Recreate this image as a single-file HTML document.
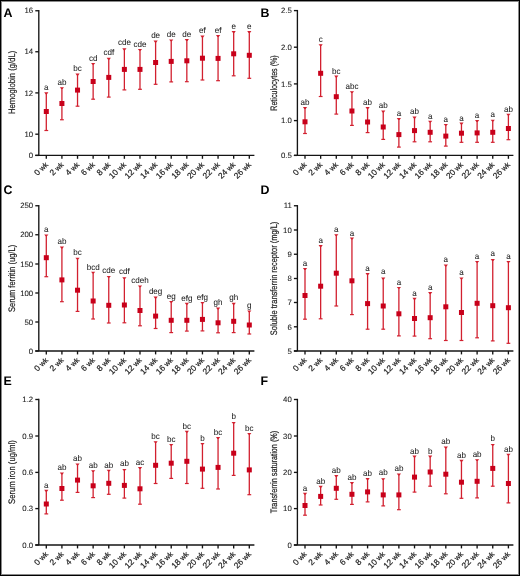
<!DOCTYPE html>
<html><head><meta charset="utf-8"><title>Figure</title><style>
html,body{margin:0;padding:0;background:#fff;}
body{width:520px;height:576px;overflow:hidden;position:relative;}
.frame{position:absolute;left:0;top:0;width:520px;height:576px;box-sizing:border-box;border:1px solid #000;}
.frame2{position:absolute;left:1px;top:1px;width:518px;height:574px;box-sizing:border-box;border:1px solid #8a8a8a;}
svg{position:absolute;left:0;top:0;will-change:transform;text-rendering:geometricPrecision;}
text{font-family:"Liberation Sans",sans-serif;fill:#1c1c1c;stroke:#1c1c1c;stroke-width:0.2px;}
.L{font-weight:bold;font-size:12.4px;fill:#000;stroke:none;}
.T{font-size:9.4px;}
.Y{font-size:7.8px;stroke-width:0.08px;}
.X{font-size:7.3px;}
.S{font-size:8.3px;stroke-width:0.05px;}
.ax{stroke:#141414;stroke-width:1.35;fill:none;}
.bar{stroke:#d2202f;stroke-width:1.3;fill:none;}
.cap{stroke:#d2202f;stroke-width:1.2;fill:none;}
.mk{fill:#c8001a;}
.capt{fill:#d2202f;stroke:none;}
</style></head>
<body>
<svg width="520" height="576" viewBox="0 0 520 576">
<text x="3.6" y="17" class="L">A</text>
<text class="T" transform="translate(14.5,82.4) rotate(-90)" text-anchor="middle" textLength="63.3" lengthAdjust="spacingAndGlyphs">Hemoglobin (g/dL)</text>
<path d="M38.8 10.07V155.4" class="ax"/>
<path d="M35.3 155.4H254.4" class="ax"/>
<path d="M35.3 10.75H38.8" class="ax"/>
<text class="Y" transform="translate(33.2,13.45) scale(1,1)" text-anchor="end">16</text>
<path d="M35.3 51.75H38.8" class="ax"/>
<text class="Y" transform="translate(33.2,54.45) scale(1,1)" text-anchor="end">14</text>
<path d="M35.3 92.9H38.8" class="ax"/>
<text class="Y" transform="translate(33.2,95.6) scale(1,1)" text-anchor="end">12</text>
<path d="M35.3 134.2H38.8" class="ax"/>
<text class="Y" transform="translate(33.2,136.9) scale(1,1)" text-anchor="end">10</text>
<path d="M35.3 155.4H38.8" class="ax"/>
<text class="Y" transform="translate(33.2,158.1) scale(1,1)" text-anchor="end">0</text>
<path d="M46.3 155.4V158.8" class="ax"/>
<text class="X" transform="translate(48.5,165.1) rotate(-45) scale(1,1)" text-anchor="end"><tspan font-size="8.3">0</tspan> wk</text>
<path d="M61.91 155.4V158.8" class="ax"/>
<text class="X" transform="translate(64.11,165.1) rotate(-45) scale(1,1)" text-anchor="end"><tspan font-size="8.3">2</tspan> wk</text>
<path d="M77.53 155.4V158.8" class="ax"/>
<text class="X" transform="translate(79.73,165.1) rotate(-45) scale(1,1)" text-anchor="end"><tspan font-size="8.3">4</tspan> wk</text>
<path d="M93.14 155.4V158.8" class="ax"/>
<text class="X" transform="translate(95.34,165.1) rotate(-45) scale(1,1)" text-anchor="end"><tspan font-size="8.3">6</tspan> wk</text>
<path d="M108.76 155.4V158.8" class="ax"/>
<text class="X" transform="translate(110.96,165.1) rotate(-45) scale(1,1)" text-anchor="end"><tspan font-size="8.3">8</tspan> wk</text>
<path d="M124.38 155.4V158.8" class="ax"/>
<text class="X" transform="translate(126.58,165.1) rotate(-45) scale(1,1)" text-anchor="end"><tspan font-size="8.3">10</tspan> wk</text>
<path d="M139.99 155.4V158.8" class="ax"/>
<text class="X" transform="translate(142.19,165.1) rotate(-45) scale(1,1)" text-anchor="end"><tspan font-size="8.3">12</tspan> wk</text>
<path d="M155.61 155.4V158.8" class="ax"/>
<text class="X" transform="translate(157.81,165.1) rotate(-45) scale(1,1)" text-anchor="end"><tspan font-size="8.3">14</tspan> wk</text>
<path d="M171.22 155.4V158.8" class="ax"/>
<text class="X" transform="translate(173.42,165.1) rotate(-45) scale(1,1)" text-anchor="end"><tspan font-size="8.3">16</tspan> wk</text>
<path d="M186.83 155.4V158.8" class="ax"/>
<text class="X" transform="translate(189.03,165.1) rotate(-45) scale(1,1)" text-anchor="end"><tspan font-size="8.3">18</tspan> wk</text>
<path d="M202.45 155.4V158.8" class="ax"/>
<text class="X" transform="translate(204.65,165.1) rotate(-45) scale(1,1)" text-anchor="end"><tspan font-size="8.3">20</tspan> wk</text>
<path d="M218.06 155.4V158.8" class="ax"/>
<text class="X" transform="translate(220.26,165.1) rotate(-45) scale(1,1)" text-anchor="end"><tspan font-size="8.3">22</tspan> wk</text>
<path d="M233.68 155.4V158.8" class="ax"/>
<text class="X" transform="translate(235.88,165.1) rotate(-45) scale(1,1)" text-anchor="end"><tspan font-size="8.3">24</tspan> wk</text>
<path d="M249.3 155.4V158.8" class="ax"/>
<text class="X" transform="translate(251.5,165.1) rotate(-45) scale(1,1)" text-anchor="end"><tspan font-size="8.3">26</tspan> wk</text>
<path d="M46.3 92.9V130.5" class="bar"/>
<path d="M44.4 130.5H48.2" class="cap"/>
<path d="M44.2 92.3H48.4L46.95 94.2H45.65Z" class="capt"/>
<rect x="43.8" y="109" width="5" height="5" class="mk"/>
<text class="S" transform="translate(46.3,90.2) scale(0.97,1)" text-anchor="middle">a</text>
<path d="M61.91 87.8V119.75" class="bar"/>
<path d="M60.02 119.75H63.81" class="cap"/>
<path d="M59.81 87.2H64.02L62.56 89.1H61.27Z" class="capt"/>
<rect x="59.41" y="101" width="5" height="5" class="mk"/>
<text class="S" transform="translate(61.91,85.3) scale(0.97,1)" text-anchor="middle">ab</text>
<path d="M77.53 74.1V106.2" class="bar"/>
<path d="M75.63 106.2H79.43" class="cap"/>
<path d="M75.43 73.5H79.63L78.18 75.4H76.88Z" class="capt"/>
<rect x="75.03" y="87.6" width="5" height="5" class="mk"/>
<text class="S" transform="translate(77.53,71.4) scale(0.97,1)" text-anchor="middle">bc</text>
<path d="M93.14 63.5V99.2" class="bar"/>
<path d="M91.24 99.2H95.05" class="cap"/>
<path d="M91.05 62.9H95.24L93.8 64.8H92.49Z" class="capt"/>
<rect x="90.64" y="79" width="5" height="5" class="mk"/>
<text class="S" transform="translate(93.14,61) scale(0.97,1)" text-anchor="middle">cd</text>
<path d="M108.76 58.4V97.1" class="bar"/>
<path d="M106.86 97.1H110.66" class="cap"/>
<path d="M106.66 57.8H110.86L109.41 59.7H108.11Z" class="capt"/>
<rect x="106.26" y="74.9" width="5" height="5" class="mk"/>
<text class="S" transform="translate(108.76,55.3) scale(0.97,1)" text-anchor="middle">cdf</text>
<path d="M124.38 48.9V89.9" class="bar"/>
<path d="M122.47 89.9H126.28" class="cap"/>
<path d="M122.28 48.3H126.47L125.03 50.2H123.72Z" class="capt"/>
<rect x="121.88" y="66.9" width="5" height="5" class="mk"/>
<text class="S" transform="translate(124.38,44.7) scale(0.97,1)" text-anchor="middle">cde</text>
<path d="M139.99 49.5V89.3" class="bar"/>
<path d="M138.09 89.3H141.89" class="cap"/>
<path d="M137.89 48.9H142.09L140.64 50.8H139.34Z" class="capt"/>
<rect x="137.49" y="66.9" width="5" height="5" class="mk"/>
<text class="S" transform="translate(139.99,46.8) scale(0.97,1)" text-anchor="middle">cde</text>
<path d="M155.61 41.1V84.3" class="bar"/>
<path d="M153.71 84.3H157.51" class="cap"/>
<path d="M153.51 40.5H157.71L156.26 42.4H154.96Z" class="capt"/>
<rect x="153.11" y="60" width="5" height="5" class="mk"/>
<text class="S" transform="translate(155.61,38) scale(0.97,1)" text-anchor="middle">de</text>
<path d="M171.22 40V81.9" class="bar"/>
<path d="M169.32 81.9H173.12" class="cap"/>
<path d="M169.12 39.4H173.32L171.87 41.3H170.57Z" class="capt"/>
<rect x="168.72" y="58.9" width="5" height="5" class="mk"/>
<text class="S" transform="translate(171.22,36.9) scale(0.97,1)" text-anchor="middle">de</text>
<path d="M186.83 39.6V81.7" class="bar"/>
<path d="M184.93 81.7H188.73" class="cap"/>
<path d="M184.73 39H188.93L187.48 40.9H186.18Z" class="capt"/>
<rect x="184.33" y="58.3" width="5" height="5" class="mk"/>
<text class="S" transform="translate(186.83,36.9) scale(0.97,1)" text-anchor="middle">de</text>
<path d="M202.45 36.2V80" class="bar"/>
<path d="M200.55 80H204.35" class="cap"/>
<path d="M200.35 35.6H204.55L203.1 37.5H201.8Z" class="capt"/>
<rect x="199.95" y="55.7" width="5" height="5" class="mk"/>
<text class="S" transform="translate(202.45,33.3) scale(0.97,1)" text-anchor="middle">ef</text>
<path d="M218.06 35.6V80.7" class="bar"/>
<path d="M216.16 80.7H219.97" class="cap"/>
<path d="M215.97 35H220.16L218.72 36.9H217.41Z" class="capt"/>
<rect x="215.56" y="55.9" width="5" height="5" class="mk"/>
<text class="S" transform="translate(218.06,32.7) scale(0.97,1)" text-anchor="middle">ef</text>
<path d="M233.68 31.6V75.8" class="bar"/>
<path d="M231.78 75.8H235.58" class="cap"/>
<path d="M231.58 31H235.78L234.33 32.9H233.03Z" class="capt"/>
<rect x="231.18" y="51.3" width="5" height="5" class="mk"/>
<text class="S" transform="translate(233.68,28.5) scale(0.97,1)" text-anchor="middle">e</text>
<path d="M249.3 31.6V78.3" class="bar"/>
<path d="M247.4 78.3H251.2" class="cap"/>
<path d="M247.2 31H251.4L249.95 32.9H248.65Z" class="capt"/>
<rect x="246.8" y="52.8" width="5" height="5" class="mk"/>
<text class="S" transform="translate(249.3,28.5) scale(0.97,1)" text-anchor="middle">e</text>
<text x="260.5" y="17" class="L">B</text>
<text class="T" transform="translate(276.6,83) rotate(-90)" text-anchor="middle" textLength="55.5" lengthAdjust="spacingAndGlyphs">Reticulocytes (%)</text>
<path d="M297.4 9.92V155.4" class="ax"/>
<path d="M293.9 155.4H513.4" class="ax"/>
<path d="M293.9 10.6H297.4" class="ax"/>
<text class="Y" transform="translate(291.8,13.3) scale(1,1)" text-anchor="end">2.5</text>
<path d="M293.9 47.2H297.4" class="ax"/>
<text class="Y" transform="translate(291.8,49.9) scale(1,1)" text-anchor="end">2.0</text>
<path d="M293.9 83.9H297.4" class="ax"/>
<text class="Y" transform="translate(291.8,86.6) scale(1,1)" text-anchor="end">1.5</text>
<path d="M293.9 120.6H297.4" class="ax"/>
<text class="Y" transform="translate(291.8,123.3) scale(1,1)" text-anchor="end">1.0</text>
<path d="M293.9 155.4H297.4" class="ax"/>
<text class="Y" transform="translate(291.8,158.1) scale(1,1)" text-anchor="end">0.5</text>
<path d="M305 155.4V158.8" class="ax"/>
<text class="X" transform="translate(307.2,165.1) rotate(-45) scale(1,1)" text-anchor="end"><tspan font-size="8.3">0</tspan> wk</text>
<path d="M320.65 155.4V158.8" class="ax"/>
<text class="X" transform="translate(322.85,165.1) rotate(-45) scale(1,1)" text-anchor="end"><tspan font-size="8.3">2</tspan> wk</text>
<path d="M336.29 155.4V158.8" class="ax"/>
<text class="X" transform="translate(338.49,165.1) rotate(-45) scale(1,1)" text-anchor="end"><tspan font-size="8.3">4</tspan> wk</text>
<path d="M351.94 155.4V158.8" class="ax"/>
<text class="X" transform="translate(354.14,165.1) rotate(-45) scale(1,1)" text-anchor="end"><tspan font-size="8.3">6</tspan> wk</text>
<path d="M367.58 155.4V158.8" class="ax"/>
<text class="X" transform="translate(369.78,165.1) rotate(-45) scale(1,1)" text-anchor="end"><tspan font-size="8.3">8</tspan> wk</text>
<path d="M383.23 155.4V158.8" class="ax"/>
<text class="X" transform="translate(385.43,165.1) rotate(-45) scale(1,1)" text-anchor="end"><tspan font-size="8.3">10</tspan> wk</text>
<path d="M398.88 155.4V158.8" class="ax"/>
<text class="X" transform="translate(401.08,165.1) rotate(-45) scale(1,1)" text-anchor="end"><tspan font-size="8.3">12</tspan> wk</text>
<path d="M414.52 155.4V158.8" class="ax"/>
<text class="X" transform="translate(416.72,165.1) rotate(-45) scale(1,1)" text-anchor="end"><tspan font-size="8.3">14</tspan> wk</text>
<path d="M430.17 155.4V158.8" class="ax"/>
<text class="X" transform="translate(432.37,165.1) rotate(-45) scale(1,1)" text-anchor="end"><tspan font-size="8.3">16</tspan> wk</text>
<path d="M445.81 155.4V158.8" class="ax"/>
<text class="X" transform="translate(448.01,165.1) rotate(-45) scale(1,1)" text-anchor="end"><tspan font-size="8.3">18</tspan> wk</text>
<path d="M461.46 155.4V158.8" class="ax"/>
<text class="X" transform="translate(463.66,165.1) rotate(-45) scale(1,1)" text-anchor="end"><tspan font-size="8.3">20</tspan> wk</text>
<path d="M477.11 155.4V158.8" class="ax"/>
<text class="X" transform="translate(479.31,165.1) rotate(-45) scale(1,1)" text-anchor="end"><tspan font-size="8.3">22</tspan> wk</text>
<path d="M492.75 155.4V158.8" class="ax"/>
<text class="X" transform="translate(494.95,165.1) rotate(-45) scale(1,1)" text-anchor="end"><tspan font-size="8.3">24</tspan> wk</text>
<path d="M508.4 155.4V158.8" class="ax"/>
<text class="X" transform="translate(510.6,165.1) rotate(-45) scale(1,1)" text-anchor="end"><tspan font-size="8.3">26</tspan> wk</text>
<path d="M305 107.6V133.5" class="bar"/>
<path d="M303.1 133.5H306.9" class="cap"/>
<path d="M302.9 107H307.1L305.65 108.9H304.35Z" class="capt"/>
<rect x="302.5" y="119.3" width="5" height="5" class="mk"/>
<text class="S" transform="translate(305,104.5) scale(0.97,1)" text-anchor="middle">ab</text>
<path d="M320.65 44.8V96.5" class="bar"/>
<path d="M318.75 96.5H322.55" class="cap"/>
<path d="M318.55 44.2H322.75L321.3 46.1H320Z" class="capt"/>
<rect x="318.15" y="70.8" width="5" height="5" class="mk"/>
<text class="S" transform="translate(320.65,41.9) scale(0.97,1)" text-anchor="middle">c</text>
<path d="M336.29 76.2V114.1" class="bar"/>
<path d="M334.39 114.1H338.19" class="cap"/>
<path d="M334.19 75.6H338.39L336.94 77.5H335.64Z" class="capt"/>
<rect x="333.79" y="94.2" width="5" height="5" class="mk"/>
<text class="S" transform="translate(336.29,73.5) scale(0.97,1)" text-anchor="middle">bc</text>
<path d="M351.94 91.8V125.4" class="bar"/>
<path d="M350.04 125.4H353.84" class="cap"/>
<path d="M349.84 91.2H354.04L352.59 93.1H351.29Z" class="capt"/>
<rect x="349.44" y="108.5" width="5" height="5" class="mk"/>
<text class="S" transform="translate(351.94,88.9) scale(0.97,1)" text-anchor="middle">abc</text>
<path d="M367.58 107.6V132.6" class="bar"/>
<path d="M365.68 132.6H369.48" class="cap"/>
<path d="M365.48 107H369.68L368.23 108.9H366.93Z" class="capt"/>
<rect x="365.08" y="119.5" width="5" height="5" class="mk"/>
<text class="S" transform="translate(367.58,104.9) scale(0.97,1)" text-anchor="middle">ab</text>
<path d="M383.23 111.2V139.4" class="bar"/>
<path d="M381.33 139.4H385.13" class="cap"/>
<path d="M381.13 110.6H385.33L383.88 112.5H382.58Z" class="capt"/>
<rect x="380.73" y="124.5" width="5" height="5" class="mk"/>
<text class="S" transform="translate(383.23,107.8) scale(0.97,1)" text-anchor="middle">ab</text>
<path d="M398.88 118.6V147.1" class="bar"/>
<path d="M396.98 147.1H400.78" class="cap"/>
<path d="M396.78 118H400.98L399.53 119.9H398.23Z" class="capt"/>
<rect x="396.38" y="132.1" width="5" height="5" class="mk"/>
<text class="S" transform="translate(398.88,115.5) scale(0.97,1)" text-anchor="middle">a</text>
<path d="M414.52 117.1V141.8" class="bar"/>
<path d="M412.62 141.8H416.42" class="cap"/>
<path d="M412.42 116.5H416.62L415.17 118.4H413.87Z" class="capt"/>
<rect x="412.02" y="128.1" width="5" height="5" class="mk"/>
<text class="S" transform="translate(414.52,113.8) scale(0.97,1)" text-anchor="middle">ab</text>
<path d="M430.17 121.3V141.8" class="bar"/>
<path d="M428.27 141.8H432.07" class="cap"/>
<path d="M428.07 120.7H432.27L430.82 122.6H429.52Z" class="capt"/>
<rect x="427.67" y="129.8" width="5" height="5" class="mk"/>
<text class="S" transform="translate(430.17,118.6) scale(0.97,1)" text-anchor="middle">a</text>
<path d="M445.81 124.5V146.1" class="bar"/>
<path d="M443.91 146.1H447.71" class="cap"/>
<path d="M443.71 123.9H447.91L446.46 125.8H445.16Z" class="capt"/>
<rect x="443.31" y="133.6" width="5" height="5" class="mk"/>
<text class="S" transform="translate(445.81,122.2) scale(0.97,1)" text-anchor="middle">a</text>
<path d="M461.46 123.2V142.3" class="bar"/>
<path d="M459.56 142.3H463.36" class="cap"/>
<path d="M459.36 122.6H463.56L462.11 124.5H460.81Z" class="capt"/>
<rect x="458.96" y="130.7" width="5" height="5" class="mk"/>
<text class="S" transform="translate(461.46,120.5) scale(0.97,1)" text-anchor="middle">a</text>
<path d="M477.11 120.7V142.3" class="bar"/>
<path d="M475.21 142.3H479.01" class="cap"/>
<path d="M475.01 120.1H479.21L477.76 122H476.46Z" class="capt"/>
<rect x="474.61" y="130.4" width="5" height="5" class="mk"/>
<text class="S" transform="translate(477.11,118) scale(0.97,1)" text-anchor="middle">a</text>
<path d="M492.75 120.3V142.3" class="bar"/>
<path d="M490.85 142.3H494.65" class="cap"/>
<path d="M490.65 119.7H494.85L493.4 121.6H492.1Z" class="capt"/>
<rect x="490.25" y="129.8" width="5" height="5" class="mk"/>
<text class="S" transform="translate(492.75,117.2) scale(0.97,1)" text-anchor="middle">a</text>
<path d="M508.4 114.3V139.7" class="bar"/>
<path d="M506.5 139.7H510.3" class="cap"/>
<path d="M506.3 113.7H510.5L509.05 115.6H507.75Z" class="capt"/>
<rect x="505.9" y="126" width="5" height="5" class="mk"/>
<text class="S" transform="translate(508.4,111.7) scale(0.97,1)" text-anchor="middle">ab</text>
<text x="3.4" y="194" class="L">C</text>
<text class="T" transform="translate(14.8,278.45) rotate(-90)" text-anchor="middle" textLength="67.3" lengthAdjust="spacingAndGlyphs">Serum ferritin (ug/L)</text>
<path d="M38.8 205.07V351" class="ax"/>
<path d="M35.3 351H254.4" class="ax"/>
<path d="M35.3 205.75H38.8" class="ax"/>
<text class="Y" transform="translate(33.2,208.45) scale(1,1)" text-anchor="end">250</text>
<path d="M35.3 234.75H38.8" class="ax"/>
<text class="Y" transform="translate(33.2,237.45) scale(1,1)" text-anchor="end">200</text>
<path d="M35.3 264H38.8" class="ax"/>
<text class="Y" transform="translate(33.2,266.7) scale(1,1)" text-anchor="end">150</text>
<path d="M35.3 293H38.8" class="ax"/>
<text class="Y" transform="translate(33.2,295.7) scale(1,1)" text-anchor="end">100</text>
<path d="M35.3 322H38.8" class="ax"/>
<text class="Y" transform="translate(33.2,324.7) scale(1,1)" text-anchor="end">50</text>
<path d="M35.3 351H38.8" class="ax"/>
<text class="Y" transform="translate(33.2,353.7) scale(1,1)" text-anchor="end">0</text>
<path d="M46.3 351V354.4" class="ax"/>
<text class="X" transform="translate(48.5,360.7) rotate(-45) scale(1,1)" text-anchor="end"><tspan font-size="8.3">0</tspan> wk</text>
<path d="M61.91 351V354.4" class="ax"/>
<text class="X" transform="translate(64.11,360.7) rotate(-45) scale(1,1)" text-anchor="end"><tspan font-size="8.3">2</tspan> wk</text>
<path d="M77.53 351V354.4" class="ax"/>
<text class="X" transform="translate(79.73,360.7) rotate(-45) scale(1,1)" text-anchor="end"><tspan font-size="8.3">4</tspan> wk</text>
<path d="M93.14 351V354.4" class="ax"/>
<text class="X" transform="translate(95.34,360.7) rotate(-45) scale(1,1)" text-anchor="end"><tspan font-size="8.3">6</tspan> wk</text>
<path d="M108.76 351V354.4" class="ax"/>
<text class="X" transform="translate(110.96,360.7) rotate(-45) scale(1,1)" text-anchor="end"><tspan font-size="8.3">8</tspan> wk</text>
<path d="M124.38 351V354.4" class="ax"/>
<text class="X" transform="translate(126.58,360.7) rotate(-45) scale(1,1)" text-anchor="end"><tspan font-size="8.3">10</tspan> wk</text>
<path d="M139.99 351V354.4" class="ax"/>
<text class="X" transform="translate(142.19,360.7) rotate(-45) scale(1,1)" text-anchor="end"><tspan font-size="8.3">12</tspan> wk</text>
<path d="M155.61 351V354.4" class="ax"/>
<text class="X" transform="translate(157.81,360.7) rotate(-45) scale(1,1)" text-anchor="end"><tspan font-size="8.3">14</tspan> wk</text>
<path d="M171.22 351V354.4" class="ax"/>
<text class="X" transform="translate(173.42,360.7) rotate(-45) scale(1,1)" text-anchor="end"><tspan font-size="8.3">16</tspan> wk</text>
<path d="M186.83 351V354.4" class="ax"/>
<text class="X" transform="translate(189.03,360.7) rotate(-45) scale(1,1)" text-anchor="end"><tspan font-size="8.3">18</tspan> wk</text>
<path d="M202.45 351V354.4" class="ax"/>
<text class="X" transform="translate(204.65,360.7) rotate(-45) scale(1,1)" text-anchor="end"><tspan font-size="8.3">20</tspan> wk</text>
<path d="M218.06 351V354.4" class="ax"/>
<text class="X" transform="translate(220.26,360.7) rotate(-45) scale(1,1)" text-anchor="end"><tspan font-size="8.3">22</tspan> wk</text>
<path d="M233.68 351V354.4" class="ax"/>
<text class="X" transform="translate(235.88,360.7) rotate(-45) scale(1,1)" text-anchor="end"><tspan font-size="8.3">24</tspan> wk</text>
<path d="M249.3 351V354.4" class="ax"/>
<text class="X" transform="translate(251.5,360.7) rotate(-45) scale(1,1)" text-anchor="end"><tspan font-size="8.3">26</tspan> wk</text>
<path d="M46.3 235V276.7" class="bar"/>
<path d="M44.4 276.7H48.2" class="cap"/>
<path d="M44.2 234.4H48.4L46.95 236.3H45.65Z" class="capt"/>
<rect x="43.8" y="255.2" width="5" height="5" class="mk"/>
<text class="S" transform="translate(46.3,232.1) scale(0.97,1)" text-anchor="middle">a</text>
<path d="M61.91 247.1V301.7" class="bar"/>
<path d="M60.02 301.7H63.81" class="cap"/>
<path d="M59.81 246.5H64.02L62.56 248.4H61.27Z" class="capt"/>
<rect x="59.41" y="277.4" width="5" height="5" class="mk"/>
<text class="S" transform="translate(61.91,244.4) scale(0.97,1)" text-anchor="middle">ab</text>
<path d="M77.53 258.3V311.4" class="bar"/>
<path d="M75.63 311.4H79.43" class="cap"/>
<path d="M75.43 257.7H79.63L78.18 259.6H76.88Z" class="capt"/>
<rect x="75.03" y="287.7" width="5" height="5" class="mk"/>
<text class="S" transform="translate(77.53,255.4) scale(0.97,1)" text-anchor="middle">bc</text>
<path d="M93.14 272.3V319" class="bar"/>
<path d="M91.24 319H95.05" class="cap"/>
<path d="M91.05 271.7H95.24L93.8 273.6H92.49Z" class="capt"/>
<rect x="90.64" y="298.5" width="5" height="5" class="mk"/>
<text class="S" transform="translate(93.14,269.6) scale(0.97,1)" text-anchor="middle">bcd</text>
<path d="M108.76 276.5V323" class="bar"/>
<path d="M106.86 323H110.66" class="cap"/>
<path d="M106.66 275.9H110.86L109.41 277.8H108.11Z" class="capt"/>
<rect x="106.26" y="302.8" width="5" height="5" class="mk"/>
<text class="S" transform="translate(108.76,273.4) scale(0.97,1)" text-anchor="middle">cde</text>
<path d="M124.38 277.8V322.8" class="bar"/>
<path d="M122.47 322.8H126.28" class="cap"/>
<path d="M122.28 277.2H126.47L125.03 279.1H123.72Z" class="capt"/>
<rect x="121.88" y="302.5" width="5" height="5" class="mk"/>
<text class="S" transform="translate(124.38,274) scale(0.97,1)" text-anchor="middle">cdf</text>
<path d="M139.99 286V325.8" class="bar"/>
<path d="M138.09 325.8H141.89" class="cap"/>
<path d="M137.89 285.4H142.09L140.64 287.3H139.34Z" class="capt"/>
<rect x="137.49" y="308" width="5" height="5" class="mk"/>
<text class="S" transform="translate(139.99,283.3) scale(0.97,1)" text-anchor="middle">cdeh</text>
<path d="M155.61 297.2V328.5" class="bar"/>
<path d="M153.71 328.5H157.51" class="cap"/>
<path d="M153.51 296.6H157.71L156.26 298.5H154.96Z" class="capt"/>
<rect x="153.11" y="313.6" width="5" height="5" class="mk"/>
<text class="S" transform="translate(155.61,294.3) scale(0.97,1)" text-anchor="middle">deg</text>
<path d="M171.22 301.5V332.6" class="bar"/>
<path d="M169.32 332.6H173.12" class="cap"/>
<path d="M169.12 300.9H173.32L171.87 302.8H170.57Z" class="capt"/>
<rect x="168.72" y="317.8" width="5" height="5" class="mk"/>
<text class="S" transform="translate(171.22,298.5) scale(0.97,1)" text-anchor="middle">eg</text>
<path d="M186.83 303.4V331.1" class="bar"/>
<path d="M184.93 331.1H188.73" class="cap"/>
<path d="M184.73 302.8H188.93L187.48 304.7H186.18Z" class="capt"/>
<rect x="184.33" y="317.8" width="5" height="5" class="mk"/>
<text class="S" transform="translate(186.83,300.7) scale(0.97,1)" text-anchor="middle">efg</text>
<path d="M202.45 302.5V330.9" class="bar"/>
<path d="M200.55 330.9H204.35" class="cap"/>
<path d="M200.35 301.9H204.55L203.1 303.8H201.8Z" class="capt"/>
<rect x="199.95" y="316.9" width="5" height="5" class="mk"/>
<text class="S" transform="translate(202.45,299.6) scale(0.97,1)" text-anchor="middle">efg</text>
<path d="M218.06 308.2V332.8" class="bar"/>
<path d="M216.16 332.8H219.97" class="cap"/>
<path d="M215.97 307.6H220.16L218.72 309.5H217.41Z" class="capt"/>
<rect x="215.56" y="320.3" width="5" height="5" class="mk"/>
<text class="S" transform="translate(218.06,305.3) scale(0.97,1)" text-anchor="middle">gh</text>
<path d="M233.68 303.4V332.6" class="bar"/>
<path d="M231.78 332.6H235.58" class="cap"/>
<path d="M231.58 302.8H235.78L234.33 304.7H233.03Z" class="capt"/>
<rect x="231.18" y="318.8" width="5" height="5" class="mk"/>
<text class="S" transform="translate(233.68,300.1) scale(0.97,1)" text-anchor="middle">gh</text>
<path d="M249.3 311V334" class="bar"/>
<path d="M247.4 334H251.2" class="cap"/>
<path d="M247.2 310.4H251.4L249.95 312.3H248.65Z" class="capt"/>
<rect x="246.8" y="322.5" width="5" height="5" class="mk"/>
<text class="S" transform="translate(249.3,308.1) scale(0.97,1)" text-anchor="middle">g</text>
<text x="260.5" y="193.7" class="L">D</text>
<text class="T" transform="translate(276.9,278.45) rotate(-90)" text-anchor="middle" textLength="113.5" lengthAdjust="spacingAndGlyphs">Soluble transferrin receptor (mg/L)</text>
<path d="M297.4 205.07V351" class="ax"/>
<path d="M293.9 351H513.4" class="ax"/>
<path d="M293.9 205.75H297.4" class="ax"/>
<text class="Y" transform="translate(291.8,208.45) scale(1,1)" text-anchor="end">11</text>
<path d="M293.9 230H297.4" class="ax"/>
<text class="Y" transform="translate(291.8,232.7) scale(1,1)" text-anchor="end">10</text>
<path d="M293.9 254.25H297.4" class="ax"/>
<text class="Y" transform="translate(291.8,256.95) scale(1,1)" text-anchor="end">9</text>
<path d="M293.9 278.5H297.4" class="ax"/>
<text class="Y" transform="translate(291.8,281.2) scale(1,1)" text-anchor="end">8</text>
<path d="M293.9 302.5H297.4" class="ax"/>
<text class="Y" transform="translate(291.8,305.2) scale(1,1)" text-anchor="end">7</text>
<path d="M293.9 326.8H297.4" class="ax"/>
<text class="Y" transform="translate(291.8,329.5) scale(1,1)" text-anchor="end">6</text>
<path d="M293.9 351H297.4" class="ax"/>
<text class="Y" transform="translate(291.8,353.7) scale(1,1)" text-anchor="end">5</text>
<path d="M305 351V354.4" class="ax"/>
<text class="X" transform="translate(307.2,360.7) rotate(-45) scale(1,1)" text-anchor="end"><tspan font-size="8.3">0</tspan> wk</text>
<path d="M320.65 351V354.4" class="ax"/>
<text class="X" transform="translate(322.85,360.7) rotate(-45) scale(1,1)" text-anchor="end"><tspan font-size="8.3">2</tspan> wk</text>
<path d="M336.29 351V354.4" class="ax"/>
<text class="X" transform="translate(338.49,360.7) rotate(-45) scale(1,1)" text-anchor="end"><tspan font-size="8.3">4</tspan> wk</text>
<path d="M351.94 351V354.4" class="ax"/>
<text class="X" transform="translate(354.14,360.7) rotate(-45) scale(1,1)" text-anchor="end"><tspan font-size="8.3">6</tspan> wk</text>
<path d="M367.58 351V354.4" class="ax"/>
<text class="X" transform="translate(369.78,360.7) rotate(-45) scale(1,1)" text-anchor="end"><tspan font-size="8.3">8</tspan> wk</text>
<path d="M383.23 351V354.4" class="ax"/>
<text class="X" transform="translate(385.43,360.7) rotate(-45) scale(1,1)" text-anchor="end"><tspan font-size="8.3">10</tspan> wk</text>
<path d="M398.88 351V354.4" class="ax"/>
<text class="X" transform="translate(401.08,360.7) rotate(-45) scale(1,1)" text-anchor="end"><tspan font-size="8.3">12</tspan> wk</text>
<path d="M414.52 351V354.4" class="ax"/>
<text class="X" transform="translate(416.72,360.7) rotate(-45) scale(1,1)" text-anchor="end"><tspan font-size="8.3">14</tspan> wk</text>
<path d="M430.17 351V354.4" class="ax"/>
<text class="X" transform="translate(432.37,360.7) rotate(-45) scale(1,1)" text-anchor="end"><tspan font-size="8.3">16</tspan> wk</text>
<path d="M445.81 351V354.4" class="ax"/>
<text class="X" transform="translate(448.01,360.7) rotate(-45) scale(1,1)" text-anchor="end"><tspan font-size="8.3">18</tspan> wk</text>
<path d="M461.46 351V354.4" class="ax"/>
<text class="X" transform="translate(463.66,360.7) rotate(-45) scale(1,1)" text-anchor="end"><tspan font-size="8.3">20</tspan> wk</text>
<path d="M477.11 351V354.4" class="ax"/>
<text class="X" transform="translate(479.31,360.7) rotate(-45) scale(1,1)" text-anchor="end"><tspan font-size="8.3">22</tspan> wk</text>
<path d="M492.75 351V354.4" class="ax"/>
<text class="X" transform="translate(494.95,360.7) rotate(-45) scale(1,1)" text-anchor="end"><tspan font-size="8.3">24</tspan> wk</text>
<path d="M508.4 351V354.4" class="ax"/>
<text class="X" transform="translate(510.6,360.7) rotate(-45) scale(1,1)" text-anchor="end"><tspan font-size="8.3">26</tspan> wk</text>
<path d="M305 268.6V319.2" class="bar"/>
<path d="M303.1 319.2H306.9" class="cap"/>
<path d="M302.9 268H307.1L305.65 269.9H304.35Z" class="capt"/>
<rect x="302.5" y="293" width="5" height="5" class="mk"/>
<text class="S" transform="translate(305,265.9) scale(0.97,1)" text-anchor="middle">a</text>
<path d="M320.65 245.6V318.8" class="bar"/>
<path d="M318.75 318.8H322.55" class="cap"/>
<path d="M318.55 245H322.75L321.3 246.9H320Z" class="capt"/>
<rect x="318.15" y="283.7" width="5" height="5" class="mk"/>
<text class="S" transform="translate(320.65,242.9) scale(0.97,1)" text-anchor="middle">a</text>
<path d="M336.29 234.8V306" class="bar"/>
<path d="M334.39 306H338.19" class="cap"/>
<path d="M334.19 234.2H338.39L336.94 236.1H335.64Z" class="capt"/>
<rect x="333.79" y="270.7" width="5" height="5" class="mk"/>
<text class="S" transform="translate(336.29,231.8) scale(0.97,1)" text-anchor="middle">a</text>
<path d="M351.94 238.2V314.6" class="bar"/>
<path d="M350.04 314.6H353.84" class="cap"/>
<path d="M349.84 237.6H354.04L352.59 239.5H351.29Z" class="capt"/>
<rect x="349.44" y="278.3" width="5" height="5" class="mk"/>
<text class="S" transform="translate(351.94,235.5) scale(0.97,1)" text-anchor="middle">a</text>
<path d="M367.58 273.6V329.2" class="bar"/>
<path d="M365.68 329.2H369.48" class="cap"/>
<path d="M365.48 273H369.68L368.23 274.9H366.93Z" class="capt"/>
<rect x="365.08" y="301.1" width="5" height="5" class="mk"/>
<text class="S" transform="translate(367.58,270.6) scale(0.97,1)" text-anchor="middle">a</text>
<path d="M383.23 278.2V329.2" class="bar"/>
<path d="M381.33 329.2H385.13" class="cap"/>
<path d="M381.13 277.6H385.33L383.88 279.5H382.58Z" class="capt"/>
<rect x="380.73" y="303.5" width="5" height="5" class="mk"/>
<text class="S" transform="translate(383.23,274.1) scale(0.97,1)" text-anchor="middle">a</text>
<path d="M398.88 287.5V335.9" class="bar"/>
<path d="M396.98 335.9H400.78" class="cap"/>
<path d="M396.78 286.9H400.98L399.53 288.8H398.23Z" class="capt"/>
<rect x="396.38" y="311.3" width="5" height="5" class="mk"/>
<text class="S" transform="translate(398.88,284.7) scale(0.97,1)" text-anchor="middle">a</text>
<path d="M414.52 298.4V336.1" class="bar"/>
<path d="M412.62 336.1H416.42" class="cap"/>
<path d="M412.42 297.8H416.62L415.17 299.7H413.87Z" class="capt"/>
<rect x="412.02" y="316" width="5" height="5" class="mk"/>
<text class="S" transform="translate(414.52,295.6) scale(0.97,1)" text-anchor="middle">a</text>
<path d="M430.17 292.7V338.7" class="bar"/>
<path d="M428.27 338.7H432.07" class="cap"/>
<path d="M428.07 292.1H432.27L430.82 294H429.52Z" class="capt"/>
<rect x="427.67" y="315.2" width="5" height="5" class="mk"/>
<text class="S" transform="translate(430.17,290) scale(0.97,1)" text-anchor="middle">a</text>
<path d="M445.81 265.1V340.5" class="bar"/>
<path d="M443.91 340.5H447.71" class="cap"/>
<path d="M443.71 264.5H447.91L446.46 266.4H445.16Z" class="capt"/>
<rect x="443.31" y="304.3" width="5" height="5" class="mk"/>
<text class="S" transform="translate(445.81,262.2) scale(0.97,1)" text-anchor="middle">a</text>
<path d="M461.46 278V340.5" class="bar"/>
<path d="M459.56 340.5H463.36" class="cap"/>
<path d="M459.36 277.4H463.56L462.11 279.3H460.81Z" class="capt"/>
<rect x="458.96" y="310" width="5" height="5" class="mk"/>
<text class="S" transform="translate(461.46,275) scale(0.97,1)" text-anchor="middle">a</text>
<path d="M477.11 261.5V337.8" class="bar"/>
<path d="M475.21 337.8H479.01" class="cap"/>
<path d="M475.01 260.9H479.21L477.76 262.8H476.46Z" class="capt"/>
<rect x="474.61" y="300.8" width="5" height="5" class="mk"/>
<text class="S" transform="translate(477.11,258.7) scale(0.97,1)" text-anchor="middle">a</text>
<path d="M492.75 259.7V340.9" class="bar"/>
<path d="M490.85 340.9H494.65" class="cap"/>
<path d="M490.65 259.1H494.85L493.4 261H492.1Z" class="capt"/>
<rect x="490.25" y="303.2" width="5" height="5" class="mk"/>
<text class="S" transform="translate(492.75,255.9) scale(0.97,1)" text-anchor="middle">a</text>
<path d="M508.4 261.5V343.3" class="bar"/>
<path d="M506.5 343.3H510.3" class="cap"/>
<path d="M506.3 260.9H510.5L509.05 262.8H507.75Z" class="capt"/>
<rect x="505.9" y="305.2" width="5" height="5" class="mk"/>
<text class="S" transform="translate(508.4,258.7) scale(0.97,1)" text-anchor="middle">a</text>
<text x="3.4" y="384.8" class="L">E</text>
<text class="T" transform="translate(14.8,472.1) rotate(-90)" text-anchor="middle" textLength="63.8" lengthAdjust="spacingAndGlyphs">Serum iron (ug/ml)</text>
<path d="M38.8 398.82V545" class="ax"/>
<path d="M35.3 545H254.4" class="ax"/>
<path d="M35.3 399.5H38.8" class="ax"/>
<text class="Y" transform="translate(33.2,402.2) scale(1,1)" text-anchor="end">1.2</text>
<path d="M35.3 436H38.8" class="ax"/>
<text class="Y" transform="translate(33.2,438.7) scale(1,1)" text-anchor="end">0.9</text>
<path d="M35.3 472.4H38.8" class="ax"/>
<text class="Y" transform="translate(33.2,475.1) scale(1,1)" text-anchor="end">0.6</text>
<path d="M35.3 508.6H38.8" class="ax"/>
<text class="Y" transform="translate(33.2,511.3) scale(1,1)" text-anchor="end">0.3</text>
<path d="M35.3 545H38.8" class="ax"/>
<text class="Y" transform="translate(33.2,547.7) scale(1,1)" text-anchor="end">0.0</text>
<path d="M46.3 545V548.4" class="ax"/>
<text class="X" transform="translate(48.5,554.7) rotate(-45) scale(1,1)" text-anchor="end"><tspan font-size="8.3">0</tspan> wk</text>
<path d="M61.91 545V548.4" class="ax"/>
<text class="X" transform="translate(64.11,554.7) rotate(-45) scale(1,1)" text-anchor="end"><tspan font-size="8.3">2</tspan> wk</text>
<path d="M77.53 545V548.4" class="ax"/>
<text class="X" transform="translate(79.73,554.7) rotate(-45) scale(1,1)" text-anchor="end"><tspan font-size="8.3">4</tspan> wk</text>
<path d="M93.14 545V548.4" class="ax"/>
<text class="X" transform="translate(95.34,554.7) rotate(-45) scale(1,1)" text-anchor="end"><tspan font-size="8.3">6</tspan> wk</text>
<path d="M108.76 545V548.4" class="ax"/>
<text class="X" transform="translate(110.96,554.7) rotate(-45) scale(1,1)" text-anchor="end"><tspan font-size="8.3">8</tspan> wk</text>
<path d="M124.38 545V548.4" class="ax"/>
<text class="X" transform="translate(126.58,554.7) rotate(-45) scale(1,1)" text-anchor="end"><tspan font-size="8.3">10</tspan> wk</text>
<path d="M139.99 545V548.4" class="ax"/>
<text class="X" transform="translate(142.19,554.7) rotate(-45) scale(1,1)" text-anchor="end"><tspan font-size="8.3">12</tspan> wk</text>
<path d="M155.61 545V548.4" class="ax"/>
<text class="X" transform="translate(157.81,554.7) rotate(-45) scale(1,1)" text-anchor="end"><tspan font-size="8.3">14</tspan> wk</text>
<path d="M171.22 545V548.4" class="ax"/>
<text class="X" transform="translate(173.42,554.7) rotate(-45) scale(1,1)" text-anchor="end"><tspan font-size="8.3">16</tspan> wk</text>
<path d="M186.83 545V548.4" class="ax"/>
<text class="X" transform="translate(189.03,554.7) rotate(-45) scale(1,1)" text-anchor="end"><tspan font-size="8.3">18</tspan> wk</text>
<path d="M202.45 545V548.4" class="ax"/>
<text class="X" transform="translate(204.65,554.7) rotate(-45) scale(1,1)" text-anchor="end"><tspan font-size="8.3">20</tspan> wk</text>
<path d="M218.06 545V548.4" class="ax"/>
<text class="X" transform="translate(220.26,554.7) rotate(-45) scale(1,1)" text-anchor="end"><tspan font-size="8.3">22</tspan> wk</text>
<path d="M233.68 545V548.4" class="ax"/>
<text class="X" transform="translate(235.88,554.7) rotate(-45) scale(1,1)" text-anchor="end"><tspan font-size="8.3">24</tspan> wk</text>
<path d="M249.3 545V548.4" class="ax"/>
<text class="X" transform="translate(251.5,554.7) rotate(-45) scale(1,1)" text-anchor="end"><tspan font-size="8.3">26</tspan> wk</text>
<path d="M46.3 490.4V513.9" class="bar"/>
<path d="M44.4 513.9H48.2" class="cap"/>
<path d="M44.2 489.8H48.4L46.95 491.7H45.65Z" class="capt"/>
<rect x="43.8" y="501.5" width="5" height="5" class="mk"/>
<text class="S" transform="translate(46.3,487.8) scale(0.97,1)" text-anchor="middle">a</text>
<path d="M61.91 473.1V500.2" class="bar"/>
<path d="M60.02 500.2H63.81" class="cap"/>
<path d="M59.81 472.5H64.02L62.56 474.4H61.27Z" class="capt"/>
<rect x="59.41" y="486" width="5" height="5" class="mk"/>
<text class="S" transform="translate(61.91,470.4) scale(0.97,1)" text-anchor="middle">ab</text>
<path d="M77.53 464V492.4" class="bar"/>
<path d="M75.63 492.4H79.43" class="cap"/>
<path d="M75.43 463.4H79.63L78.18 465.3H76.88Z" class="capt"/>
<rect x="75.03" y="477.6" width="5" height="5" class="mk"/>
<text class="S" transform="translate(77.53,461.1) scale(0.97,1)" text-anchor="middle">ab</text>
<path d="M93.14 470.8V497.6" class="bar"/>
<path d="M91.24 497.6H95.05" class="cap"/>
<path d="M91.05 470.2H95.24L93.8 472.1H92.49Z" class="capt"/>
<rect x="90.64" y="483.3" width="5" height="5" class="mk"/>
<text class="S" transform="translate(93.14,468.1) scale(0.97,1)" text-anchor="middle">ab</text>
<path d="M108.76 470.3V494.3" class="bar"/>
<path d="M106.86 494.3H110.66" class="cap"/>
<path d="M106.66 469.7H110.86L109.41 471.6H108.11Z" class="capt"/>
<rect x="106.26" y="480.8" width="5" height="5" class="mk"/>
<text class="S" transform="translate(108.76,467.5) scale(0.97,1)" text-anchor="middle">ab</text>
<path d="M124.38 469.5V498.1" class="bar"/>
<path d="M122.47 498.1H126.28" class="cap"/>
<path d="M122.28 468.9H126.47L125.03 470.8H123.72Z" class="capt"/>
<rect x="121.88" y="482.9" width="5" height="5" class="mk"/>
<text class="S" transform="translate(124.38,466) scale(0.97,1)" text-anchor="middle">ab</text>
<path d="M139.99 467.6V504.2" class="bar"/>
<path d="M138.09 504.2H141.89" class="cap"/>
<path d="M137.89 467H142.09L140.64 468.9H139.34Z" class="capt"/>
<rect x="137.49" y="486.3" width="5" height="5" class="mk"/>
<text class="S" transform="translate(139.99,464.9) scale(0.97,1)" text-anchor="middle">ac</text>
<path d="M155.61 441.8V483.5" class="bar"/>
<path d="M153.71 483.5H157.51" class="cap"/>
<path d="M153.51 441.2H157.71L156.26 443.1H154.96Z" class="capt"/>
<rect x="153.11" y="462.8" width="5" height="5" class="mk"/>
<text class="S" transform="translate(155.61,439.1) scale(0.97,1)" text-anchor="middle">bc</text>
<path d="M171.22 444.5V478.4" class="bar"/>
<path d="M169.32 478.4H173.12" class="cap"/>
<path d="M169.12 443.9H173.32L171.87 445.8H170.57Z" class="capt"/>
<rect x="168.72" y="460.7" width="5" height="5" class="mk"/>
<text class="S" transform="translate(171.22,441.9) scale(0.97,1)" text-anchor="middle">bc</text>
<path d="M186.83 431.4V483.5" class="bar"/>
<path d="M184.93 483.5H188.73" class="cap"/>
<path d="M184.73 430.8H188.93L187.48 432.7H186.18Z" class="capt"/>
<rect x="184.33" y="458.8" width="5" height="5" class="mk"/>
<text class="S" transform="translate(186.83,428.8) scale(0.97,1)" text-anchor="middle">bc</text>
<path d="M202.45 443.5V488.3" class="bar"/>
<path d="M200.55 488.3H204.35" class="cap"/>
<path d="M200.35 442.9H204.55L203.1 444.8H201.8Z" class="capt"/>
<rect x="199.95" y="466.6" width="5" height="5" class="mk"/>
<text class="S" transform="translate(202.45,440.8) scale(0.97,1)" text-anchor="middle">b</text>
<path d="M218.06 437.6V489" class="bar"/>
<path d="M216.16 489H219.97" class="cap"/>
<path d="M215.97 437H220.16L218.72 438.9H217.41Z" class="capt"/>
<rect x="215.56" y="464.9" width="5" height="5" class="mk"/>
<text class="S" transform="translate(218.06,434.9) scale(0.97,1)" text-anchor="middle">bc</text>
<path d="M233.68 422.5V475.4" class="bar"/>
<path d="M231.78 475.4H235.58" class="cap"/>
<path d="M231.58 421.9H235.78L234.33 423.8H233.03Z" class="capt"/>
<rect x="231.18" y="450.7" width="5" height="5" class="mk"/>
<text class="S" transform="translate(233.68,418.9) scale(0.97,1)" text-anchor="middle">b</text>
<path d="M249.3 433.5V494.7" class="bar"/>
<path d="M247.4 494.7H251.2" class="cap"/>
<path d="M247.2 432.9H251.4L249.95 434.8H248.65Z" class="capt"/>
<rect x="246.8" y="467.4" width="5" height="5" class="mk"/>
<text class="S" transform="translate(249.3,430.8) scale(0.97,1)" text-anchor="middle">bc</text>
<text x="260.5" y="384.8" class="L">F</text>
<text class="T" transform="translate(276.6,472) rotate(-90)" text-anchor="middle" textLength="82.6" lengthAdjust="spacingAndGlyphs">Transferrin saturation (%)</text>
<path d="M297.4 398.82V545" class="ax"/>
<path d="M293.9 545H513.4" class="ax"/>
<path d="M293.9 399.5H297.4" class="ax"/>
<text class="Y" transform="translate(291.8,402.2) scale(1,1)" text-anchor="end">40</text>
<path d="M293.9 436H297.4" class="ax"/>
<text class="Y" transform="translate(291.8,438.7) scale(1,1)" text-anchor="end">30</text>
<path d="M293.9 472.4H297.4" class="ax"/>
<text class="Y" transform="translate(291.8,475.1) scale(1,1)" text-anchor="end">20</text>
<path d="M293.9 508.6H297.4" class="ax"/>
<text class="Y" transform="translate(291.8,511.3) scale(1,1)" text-anchor="end">10</text>
<path d="M293.9 545H297.4" class="ax"/>
<text class="Y" transform="translate(291.8,547.7) scale(1,1)" text-anchor="end">0</text>
<path d="M305 545V548.4" class="ax"/>
<text class="X" transform="translate(307.2,554.7) rotate(-45) scale(1,1)" text-anchor="end"><tspan font-size="8.3">0</tspan> wk</text>
<path d="M320.65 545V548.4" class="ax"/>
<text class="X" transform="translate(322.85,554.7) rotate(-45) scale(1,1)" text-anchor="end"><tspan font-size="8.3">2</tspan> wk</text>
<path d="M336.29 545V548.4" class="ax"/>
<text class="X" transform="translate(338.49,554.7) rotate(-45) scale(1,1)" text-anchor="end"><tspan font-size="8.3">4</tspan> wk</text>
<path d="M351.94 545V548.4" class="ax"/>
<text class="X" transform="translate(354.14,554.7) rotate(-45) scale(1,1)" text-anchor="end"><tspan font-size="8.3">6</tspan> wk</text>
<path d="M367.58 545V548.4" class="ax"/>
<text class="X" transform="translate(369.78,554.7) rotate(-45) scale(1,1)" text-anchor="end"><tspan font-size="8.3">8</tspan> wk</text>
<path d="M383.23 545V548.4" class="ax"/>
<text class="X" transform="translate(385.43,554.7) rotate(-45) scale(1,1)" text-anchor="end"><tspan font-size="8.3">10</tspan> wk</text>
<path d="M398.88 545V548.4" class="ax"/>
<text class="X" transform="translate(401.08,554.7) rotate(-45) scale(1,1)" text-anchor="end"><tspan font-size="8.3">12</tspan> wk</text>
<path d="M414.52 545V548.4" class="ax"/>
<text class="X" transform="translate(416.72,554.7) rotate(-45) scale(1,1)" text-anchor="end"><tspan font-size="8.3">14</tspan> wk</text>
<path d="M430.17 545V548.4" class="ax"/>
<text class="X" transform="translate(432.37,554.7) rotate(-45) scale(1,1)" text-anchor="end"><tspan font-size="8.3">16</tspan> wk</text>
<path d="M445.81 545V548.4" class="ax"/>
<text class="X" transform="translate(448.01,554.7) rotate(-45) scale(1,1)" text-anchor="end"><tspan font-size="8.3">18</tspan> wk</text>
<path d="M461.46 545V548.4" class="ax"/>
<text class="X" transform="translate(463.66,554.7) rotate(-45) scale(1,1)" text-anchor="end"><tspan font-size="8.3">20</tspan> wk</text>
<path d="M477.11 545V548.4" class="ax"/>
<text class="X" transform="translate(479.31,554.7) rotate(-45) scale(1,1)" text-anchor="end"><tspan font-size="8.3">22</tspan> wk</text>
<path d="M492.75 545V548.4" class="ax"/>
<text class="X" transform="translate(494.95,554.7) rotate(-45) scale(1,1)" text-anchor="end"><tspan font-size="8.3">24</tspan> wk</text>
<path d="M508.4 545V548.4" class="ax"/>
<text class="X" transform="translate(510.6,554.7) rotate(-45) scale(1,1)" text-anchor="end"><tspan font-size="8.3">26</tspan> wk</text>
<path d="M305 493.4V515.2" class="bar"/>
<path d="M303.1 515.2H306.9" class="cap"/>
<path d="M302.9 492.8H307.1L305.65 494.7H304.35Z" class="capt"/>
<rect x="302.5" y="503" width="5" height="5" class="mk"/>
<text class="S" transform="translate(305,490.7) scale(0.97,1)" text-anchor="middle">a</text>
<path d="M320.65 486.4V505" class="bar"/>
<path d="M318.75 505H322.55" class="cap"/>
<path d="M318.55 485.8H322.75L321.3 487.7H320Z" class="capt"/>
<rect x="318.15" y="493.9" width="5" height="5" class="mk"/>
<text class="S" transform="translate(320.65,483.5) scale(0.97,1)" text-anchor="middle">ab</text>
<path d="M336.29 475.6V499.3" class="bar"/>
<path d="M334.39 499.3H338.19" class="cap"/>
<path d="M334.19 475H338.39L336.94 476.9H335.64Z" class="capt"/>
<rect x="333.79" y="485.8" width="5" height="5" class="mk"/>
<text class="S" transform="translate(336.29,472.8) scale(0.97,1)" text-anchor="middle">ab</text>
<path d="M351.94 482.6V504.4" class="bar"/>
<path d="M350.04 504.4H353.84" class="cap"/>
<path d="M349.84 482H354.04L352.59 483.9H351.29Z" class="capt"/>
<rect x="349.44" y="491.8" width="5" height="5" class="mk"/>
<text class="S" transform="translate(351.94,479.7) scale(0.97,1)" text-anchor="middle">ab</text>
<path d="M367.58 478.6V501.9" class="bar"/>
<path d="M365.68 501.9H369.48" class="cap"/>
<path d="M365.48 478H369.68L368.23 479.9H366.93Z" class="capt"/>
<rect x="365.08" y="489.4" width="5" height="5" class="mk"/>
<text class="S" transform="translate(367.58,475.9) scale(0.97,1)" text-anchor="middle">ab</text>
<path d="M383.23 478.8V505.9" class="bar"/>
<path d="M381.33 505.9H385.13" class="cap"/>
<path d="M381.13 478.2H385.33L383.88 480.1H382.58Z" class="capt"/>
<rect x="380.73" y="492.4" width="5" height="5" class="mk"/>
<text class="S" transform="translate(383.23,475.1) scale(0.97,1)" text-anchor="middle">ab</text>
<path d="M398.88 474.2V509.7" class="bar"/>
<path d="M396.98 509.7H400.78" class="cap"/>
<path d="M396.78 473.6H400.98L399.53 475.5H398.23Z" class="capt"/>
<rect x="396.38" y="492.4" width="5" height="5" class="mk"/>
<text class="S" transform="translate(398.88,471.3) scale(0.97,1)" text-anchor="middle">ab</text>
<path d="M414.52 456.2V492.1" class="bar"/>
<path d="M412.62 492.1H416.42" class="cap"/>
<path d="M412.42 455.6H416.62L415.17 457.5H413.87Z" class="capt"/>
<rect x="412.02" y="474.6" width="5" height="5" class="mk"/>
<text class="S" transform="translate(414.52,453.7) scale(0.97,1)" text-anchor="middle">ab</text>
<path d="M430.17 456.2V486.2" class="bar"/>
<path d="M428.27 486.2H432.07" class="cap"/>
<path d="M428.07 455.6H432.27L430.82 457.5H429.52Z" class="capt"/>
<rect x="427.67" y="469.5" width="5" height="5" class="mk"/>
<text class="S" transform="translate(430.17,453.7) scale(0.97,1)" text-anchor="middle">b</text>
<path d="M445.81 447.1V493.8" class="bar"/>
<path d="M443.91 493.8H447.71" class="cap"/>
<path d="M443.71 446.5H447.91L446.46 448.4H445.16Z" class="capt"/>
<rect x="443.31" y="471.7" width="5" height="5" class="mk"/>
<text class="S" transform="translate(445.81,444.2) scale(0.97,1)" text-anchor="middle">ab</text>
<path d="M461.46 460.4V498.3" class="bar"/>
<path d="M459.56 498.3H463.36" class="cap"/>
<path d="M459.36 459.8H463.56L462.11 461.7H460.81Z" class="capt"/>
<rect x="458.96" y="479.7" width="5" height="5" class="mk"/>
<text class="S" transform="translate(461.46,457.7) scale(0.97,1)" text-anchor="middle">ab</text>
<path d="M477.11 459.8V497.9" class="bar"/>
<path d="M475.21 497.9H479.01" class="cap"/>
<path d="M475.01 459.2H479.21L477.76 461.1H476.46Z" class="capt"/>
<rect x="474.61" y="478.8" width="5" height="5" class="mk"/>
<text class="S" transform="translate(477.11,457.1) scale(0.97,1)" text-anchor="middle">ab</text>
<path d="M492.75 444.5V486.2" class="bar"/>
<path d="M490.85 486.2H494.65" class="cap"/>
<path d="M490.65 443.9H494.85L493.4 445.8H492.1Z" class="capt"/>
<rect x="490.25" y="465.9" width="5" height="5" class="mk"/>
<text class="S" transform="translate(492.75,441.4) scale(0.97,1)" text-anchor="middle">b</text>
<path d="M508.4 454.3V502.9" class="bar"/>
<path d="M506.5 502.9H510.3" class="cap"/>
<path d="M506.3 453.7H510.5L509.05 455.6H507.75Z" class="capt"/>
<rect x="505.9" y="481" width="5" height="5" class="mk"/>
<text class="S" transform="translate(508.4,451.6) scale(0.97,1)" text-anchor="middle">ab</text>
</svg>
<div class="frame"></div><div class="frame2"></div>
</body></html>
